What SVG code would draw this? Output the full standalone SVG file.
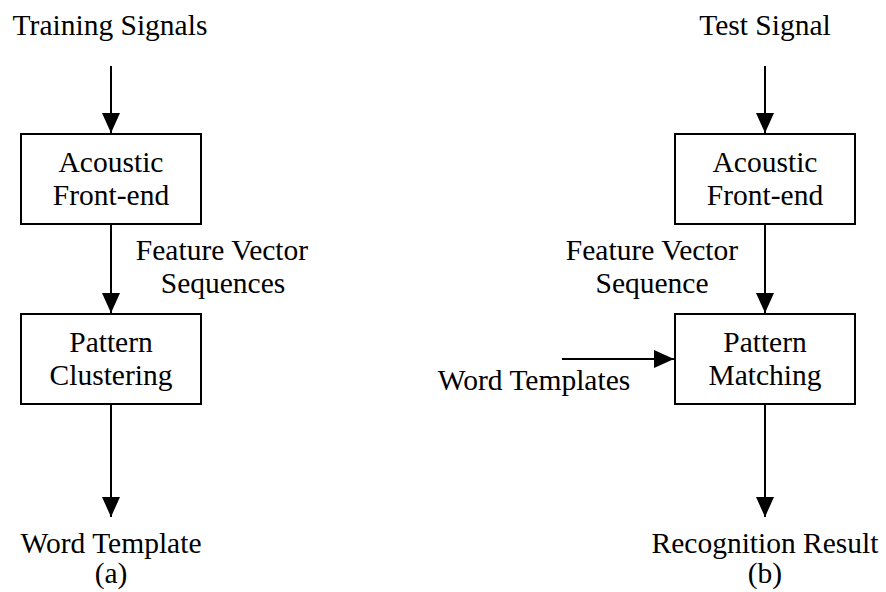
<svg xmlns="http://www.w3.org/2000/svg" width="886" height="592" viewBox="0 0 886 592">
  <style>
    text { font-family: "Liberation Serif", "Times New Roman", serif; font-size: 29.5px; fill: #000; text-anchor: middle; }
    .box { fill: #fff; stroke: #000; stroke-width: 2; }
    .wire { fill: none; stroke: #000; stroke-width: 2; marker-end: url(#arrow); }
  </style>
  <defs>
    <marker id="arrow" markerUnits="userSpaceOnUse" markerWidth="20" markerHeight="18" refX="20" refY="9" orient="auto">
      <path d="M0,0 L20,9 L0,18 Z" fill="#000"/>
    </marker>
  </defs>

  <rect width="886" height="592" fill="#fff"/>

  <!-- connectors -->
  <g id="connectors">
    <line class="wire" x1="111" y1="66" x2="111" y2="133"/>
    <line class="wire" x1="111" y1="224" x2="111" y2="313"/>
    <line class="wire" x1="111" y1="404" x2="111" y2="517"/>
    <line class="wire" x1="765" y1="66" x2="765" y2="133"/>
    <line class="wire" x1="765" y1="224" x2="765" y2="313"/>
    <line class="wire" x1="765" y1="404" x2="765" y2="517"/>
    <line class="wire" x1="562" y1="359" x2="674" y2="359"/>
  </g>

  <!-- (a) training -->
  <g id="training-signals"><text x="110" y="35">Training Signals</text></g>
  <g id="front-end-a">
    <rect class="box" x="21" y="134" width="180" height="90"/>
    <text x="111" y="172">Acoustic</text>
    <text x="111" y="205">Front-end</text>
  </g>
  <g id="label-fv-a">
    <text x="222" y="260">Feature Vector</text>
    <text x="223" y="293">Sequences</text>
  </g>
  <g id="clustering">
    <rect class="box" x="21" y="314" width="180" height="90"/>
    <text x="111" y="352">Pattern</text>
    <text x="111" y="385">Clustering</text>
  </g>
  <g id="word-template">
    <text x="111" y="553">Word Template</text>
    <text x="111" y="583">(a)</text>
  </g>

  <!-- (b) recognition -->
  <g id="test-signal"><text x="765" y="35">Test Signal</text></g>
  <g id="front-end-b">
    <rect class="box" x="675" y="134" width="180" height="90"/>
    <text x="765" y="172">Acoustic</text>
    <text x="765" y="205">Front-end</text>
  </g>
  <g id="label-fv-b">
    <text x="652" y="260">Feature Vector</text>
    <text x="652" y="293">Sequence</text>
  </g>
  <g id="word-templates"><text x="534" y="390">Word Templates</text></g>
  <g id="matching">
    <rect class="box" x="675" y="314" width="180" height="90"/>
    <text x="765" y="352">Pattern</text>
    <text x="765" y="385">Matching</text>
  </g>
  <g id="recognition-result">
    <text x="765" y="553">Recognition Result</text>
    <text x="765" y="583">(b)</text>
  </g>
</svg>
